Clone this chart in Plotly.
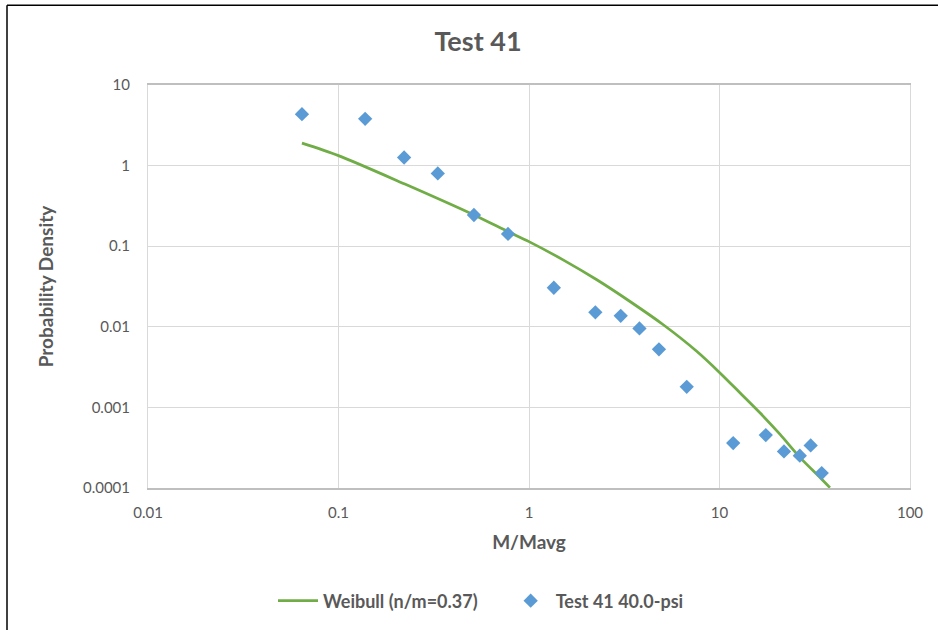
import plotly.graph_objects as go

# Measured data (Test 41 40.0-psi)
data_x = [0.0643, 0.138, 0.221, 0.332, 0.514, 0.776, 1.35, 2.23, 3.03, 3.80,
          4.81, 6.73, 11.8, 17.5, 21.8, 26.4, 30.1, 34.4]
data_y = [4.34, 3.80, 1.26, 0.80, 0.244, 0.142, 0.0305, 0.0151, 0.0137, 0.00955,
          0.00525, 0.0018, 0.000361, 0.000453, 0.000284, 0.000252, 0.000337, 0.000153]

# Weibull curve points
curve_x = [0.0643, 0.1, 0.223, 0.514, 0.774, 1.0, 1.51, 2.27, 3.39, 5.07,
           7.59, 10.06, 12.8, 16.3, 20.8, 26.5, 33.7, 38.0]
curve_y = [1.90, 1.33, 0.59, 0.244, 0.152, 0.114, 0.0677, 0.0383, 0.0206, 0.0106,
           0.00497, 0.00268, 0.00152, 0.000857, 0.000462, 0.000238, 0.000135, 0.000101]

x_ticks = [0.01, 0.1, 1, 10, 100]
x_tick_text = ["0.01", "0.1", "1", "10", "100"]
y_ticks = [0.0001, 0.001, 0.01, 0.1, 1, 10]
y_tick_text = ["0.0001", "0.001", "0.01", "0.1", "1", "10"]

TXT = "#595959"
GRID = "#d9d9d9"
FONT = "Lato"
NB = "\u00a0"

fig = go.Figure()
fig.add_trace(go.Scatter(
    x=curve_x, y=curve_y, mode="lines",
    name="<b>Weibull (n/m=0.37)</b>" + NB * 5,
    line=dict(color="#70ad47", width=2.75, shape="spline", smoothing=0.8),
))
fig.add_trace(go.Scatter(
    x=data_x, y=data_y, mode="markers", name="<b>Test 41 40.0-psi</b>",
    marker=dict(symbol="diamond", size=11, color="#5b9bd5"),
))

W, H = 938, 630
L, R, T, B = 148, 910, 85, 489
pw, ph = R - L, B - T

def px(xp):
    return (xp - L) / pw

def py(yp):
    return (B - yp) / ph

fig.update_layout(
    width=W, height=H,
    margin=dict(l=L, r=W - R, t=T, b=H - B),
    paper_bgcolor="white", plot_bgcolor="white",
    font=dict(family=FONT, color=TXT),
    title=dict(text="<b>Test 41</b>", x=478 / W, xanchor="center",
               y=1 - 42 / H, yanchor="middle",
               font=dict(size=27, color=TXT, family=FONT)),
    showlegend=True,
    legend=dict(orientation="h", x=px(481), xanchor="center",
                y=py(601), yanchor="middle",
                font=dict(size=18, color=TXT, family=FONT),
                itemwidth=40, traceorder="normal"),
    shapes=[
        dict(type="line", xref="paper", yref="paper",
             x0=px(7), x1=px(7), y0=py(5), y1=py(640),
             line=dict(color="black", width=1.5)),
        dict(type="line", xref="paper", yref="paper",
             x0=px(7), x1=px(945), y0=py(5), y1=py(5),
             line=dict(color="black", width=1.5)),
    ],
)

fig.update_xaxes(
    type="log", range=[-2, 2],
    tickvals=x_ticks, ticktext=x_tick_text,
    showgrid=True, gridcolor=GRID, gridwidth=1,
    showline=True, linecolor="#bfbfbf", linewidth=1.5, mirror=True,
    zeroline=False, ticks="", ticklabelstandoff=10,
    tickfont=dict(size=15, color=TXT, family=FONT),
    title=dict(text="<b>M/Mavg</b>", font=dict(size=19, color=TXT, family=FONT),
               standoff=16),
)
fig.update_yaxes(
    type="log", range=[-4, 1],
    tickvals=y_ticks, ticktext=y_tick_text,
    showgrid=True, gridcolor=GRID, gridwidth=1,
    showline=True, linecolor=GRID, linewidth=1, mirror=True,
    zeroline=False, ticks="", ticklabelstandoff=14,
    tickfont=dict(size=15, color=TXT, family=FONT),
    title=dict(text="<b>Probability Density</b>", font=dict(size=19, color=TXT, family=FONT),
               standoff=24),
)

fig.write_html("out.html", config={"displayModeBar": False},
               post_script="document.body.style.margin='0px';")
